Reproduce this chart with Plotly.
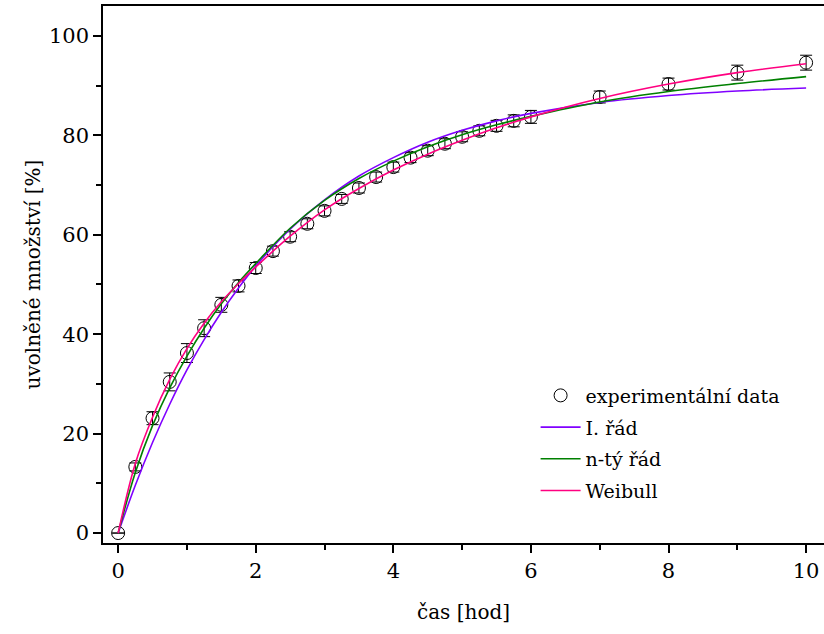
import plotly.graph_objects as go

# experimental data
t_exp = [0, 0.25, 0.5, 0.75, 1, 1.25, 1.5, 1.75, 2, 2.25, 2.5, 2.75, 3, 3.25, 3.5,
         3.75, 4, 4.25, 4.5, 4.75, 5, 5.25, 5.5, 5.75, 6, 7, 8, 9, 10]
y_exp = [0, 13.3, 23.1, 30.4, 36.2, 41.2, 45.9, 49.7, 53.3, 56.7, 59.6, 62.2, 64.8,
         67.2, 69.4, 71.6, 73.6, 75.5, 76.9, 78.3, 79.7, 80.9, 81.9, 82.9, 83.7,
         87.7, 90.3, 92.6, 94.6]
y_err = [0, 0.8, 1.3, 1.8, 1.9, 1.7, 1.5, 1.2, 1.1, 1.0, 1.0, 1.0, 1.0, 0.9, 1.0,
         1.0, 1.0, 1.0, 1.0, 1.0, 1.0, 1.0, 1.1, 1.2, 1.3, 1.2, 1.2, 1.5, 1.5]

# fitted curves (tabulated)
t_fit = [0, 0.25, 0.5, 0.75, 1, 1.25, 1.5, 1.75, 2, 2.5, 3, 3.5, 4, 4.5, 5, 5.5, 6,
         7, 8, 9, 10]
y_first = [0, 9.6, 18.2, 25.9, 32.8, 38.9, 44.4, 49.3, 53.7, 61.1, 67.0, 71.8, 75.5,
           78.6, 81.0, 82.9, 84.4, 86.6, 88.0, 88.9, 89.5]
y_nth = [0, 12.2, 21.6, 29.2, 35.6, 41.2, 46.1, 50.4, 54.2, 61.3, 66.9, 71.3, 74.8,
         77.7, 80.1, 82.1, 83.8, 86.7, 88.8, 90.4, 91.8]
y_weib = [0, 14.0, 23.3, 30.9, 37.1, 42.2, 46.5, 50.2, 53.5, 59.7, 65.0, 69.3, 73.0,
          76.2, 79.0, 81.5, 83.7, 87.4, 90.3, 92.6, 94.4]

names = ["experimentální data", "I. řád", "n-tý řád", "Weibull"]
colors = ["#000000", "#8000FF", "#008000", "#FF0080"]

FONT = "DejaVu Serif"

fig = go.Figure()
fig.add_trace(go.Scatter(
    x=t_exp, y=y_exp, mode="markers", name=names[0], legendgroup="g0",
    marker=dict(symbol="circle-open", size=13, color=colors[0], line=dict(width=1)),
    error_y=dict(type="data", array=y_err, color="black", thickness=1, width=6),
))
for i, (ys, nm, c) in enumerate([(y_first, names[1], colors[1]), (y_nth, names[2], colors[2]),
                                 (y_weib, names[3], colors[3])]):
    fig.add_trace(go.Scatter(x=t_fit, y=ys, mode="lines", name=nm, legendgroup=f"g{i+1}",
                             line=dict(color=c, width=1.6, shape="spline", smoothing=1.0)))

fig.update_layout(
    width=824, height=634,
    margin=dict(l=103, r=0, t=6, b=91),
    paper_bgcolor="white", plot_bgcolor="white",
    font=dict(family=FONT, size=20, color="black"),
    showlegend=True,
    legend=dict(x=0.6, y=0.31, xanchor="left", yanchor="top",
                bgcolor="rgba(0,0,0,0)", font=dict(size=19, family=FONT),
                itemwidth=40, traceorder="grouped", tracegroupgap=4),
    xaxis=dict(
        range=[-0.22, 10.26], tickmode="array", tickvals=[0, 2, 4, 6, 8, 10],
        ticks="outside", ticklen=8, tickwidth=1.5, tickcolor="black",
        showline=True, linecolor="black", linewidth=1.5, mirror=True,
        showgrid=False, zeroline=False,
        minor=dict(tickvals=[1, 3, 5, 7, 9], ticks="outside", ticklen=5,
                   tickwidth=1.5, tickcolor="black", showgrid=False),
        title=dict(text="čas [hod]", font=dict(size=20, family=FONT), standoff=23),
        tickfont=dict(size=21, family=FONT),
    ),
    yaxis=dict(
        range=[-2.0, 106.0], tickmode="array", tickvals=[0, 20, 40, 60, 80, 100],
        ticks="outside", ticklen=8, tickwidth=1.5, tickcolor="black",
        showline=True, linecolor="black", linewidth=1.5, mirror=False,
        showgrid=False, zeroline=False,
        minor=dict(tickvals=[10, 30, 50, 70, 90], ticks="outside", ticklen=5,
                   tickwidth=1.5, tickcolor="black", showgrid=False),
        title=dict(text="uvolněné množství [%]", font=dict(size=20, family=FONT), standoff=3),
        tickfont=dict(size=21, family=FONT),
    ),
)

fig.write_html("out.html")
